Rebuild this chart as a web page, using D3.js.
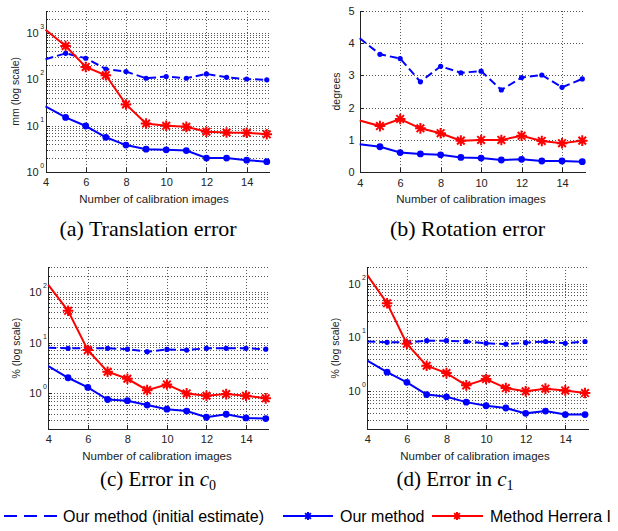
<!DOCTYPE html>
<meta charset="utf-8">
<head>
<style>
  body { margin: 0; background: #fff; }
  svg { display: block; font-family: "Liberation Sans", Arial, sans-serif; }
  .grid line { stroke: #555; stroke-width: 1; stroke-dasharray: 1,2; shape-rendering: crispEdges; }
  .axis path, .axis line { stroke: #222; shape-rendering: crispEdges; }
  .axis text { font-size: 11px; fill: #222; font-family: "Liberation Sans", Arial, sans-serif; }
  .xlabel { font-size: 11.5px; fill: #222; }
  .ylabel { font-size: 10.5px; fill: #222; }
  .caption { font-family: "Liberation Serif", "Times New Roman", serif; font-size: 22px; fill: #000; }
  .legend text { font-size: 16px; fill: #000; }
</style>
</head>
<body>
<script src="https://d3js.org/d3.v7.min.js"></script>
<div id="chart"></div>
<script>
// number of calibration images
var xs = [4, 5, 6, 7, 8, 9, 10, 11, 12, 13, 14, 15];
var xTicks = [4, 6, 8, 10, 12, 14];

// (a) translation error, mm
var transInit    = [269, 362, 283, 166, 146, 105, 114, 105, 130, 110, 101, 97];
var transOurs    = [26, 15, 9.8, 5.6, 3.8, 3.1, 3.0, 2.9, 2.0, 2.0, 1.8, 1.67];
var transHerrera = [1170, 520, 184, 122, 28.6, 11.1, 9.9, 9.4, 7.4, 7.1, 7.0, 6.5];

// (b) rotation error, degrees
var rotInit    = [4.15, 3.65, 3.52, 2.80, 3.28, 3.08, 3.13, 2.55, 2.93, 3.01, 2.63, 2.89];
var rotOurs    = [0.87, 0.79, 0.61, 0.57, 0.54, 0.46, 0.44, 0.38, 0.40, 0.35, 0.35, 0.33];
var rotHerrera = [1.6, 1.43, 1.65, 1.36, 1.21, 0.98, 1.0, 1.0, 1.13, 0.97, 0.90, 0.98];

// (c) error in c0, %
var c0Init    = [7.9, 7.7, 7.7, 7.7, 7.4, 6.6, 7.3, 7.1, 7.7, 7.7, 7.7, 7.4];
var c0Ours    = [3.45, 2.03, 1.31, 0.76, 0.72, 0.59, 0.49, 0.45, 0.34, 0.39, 0.33, 0.32];
var c0Herrera = [135, 42, 7.1, 2.67, 1.94, 1.16, 1.50, 1.0, 0.90, 0.97, 0.90, 0.80];

// (d) error in c1, %
var c1Init    = [8.4, 8.1, 8.1, 8.7, 8.7, 8.4, 7.8, 7.5, 8.0, 8.4, 7.8, 8.4];
var c1Ours    = [3.7, 2.27, 1.47, 0.87, 0.79, 0.63, 0.54, 0.49, 0.39, 0.43, 0.37, 0.37];
var c1Herrera = [143, 43, 7.6, 2.98, 2.18, 1.29, 1.69, 1.15, 1.0, 1.12, 1.04, 0.93];

var rotTicks = [0, 1, 2, 3, 4, 5];
var legendLabels = ["Our method (initial estimate)", "Our method", "Method Herrera I"];

var width = 618, height = 531;
var blue = "#0000ff", red = "#ff0000";

var panels = [
  { left: 45.5, right: 269.8, top: 10.7, bottom: 172, log: true, domain: [1, 3000],
    ylabel: "mm (log scale)", ylabelX: 15, xlabelX: 154, caption: "(a) Translation error", captionX: 148, captionY: 236,
    series: [transInit, transOurs, transHerrera] },
  { left: 359.7, right: 585.3, top: 10.7, bottom: 172.3, log: false, domain: [0, 5],
    ylabel: "degrees", ylabelX: 336, xlabelX: 471, caption: "(b) Rotation error", captionX: 467.5, captionY: 236,
    series: [rotInit, rotOurs, rotHerrera] },
  { left: 48.3, right: 268.7, top: 267.3, bottom: 429, log: true, domain: [0.2, 300],
    ylabel: "% (log scale)", ylabelX: 16, xlabelX: 157, caption: "(c) Error in ", sub: "0", captionX: 158, captionY: 486,
    series: [c0Init, c0Ours, c0Herrera] },
  { left: 367.3, right: 588, top: 267.3, bottom: 429, log: true, domain: [0.2, 200],
    ylabel: "% (log scale)", ylabelX: 335, xlabelX: 475, caption: "(d) Error in ", sub: "1", captionX: 455, captionY: 486,
    series: [c1Init, c1Ours, c1Herrera] }
];

var svg = d3.select("#chart").append("svg")
  .attr("width", width)
  .attr("height", height);

function starPath(cx, cy, r) {
  var d = r * 0.72;
  return "M" + (cx - r) + "," + cy + "L" + (cx + r) + "," + cy +
    "M" + cx + "," + (cy - r) + "L" + cx + "," + (cy + r) +
    "M" + (cx - d) + "," + (cy - d) + "L" + (cx + d) + "," + (cy + d) +
    "M" + (cx - d) + "," + (cy + d) + "L" + (cx + d) + "," + (cy - d);
}

panels.forEach(function (p) {
  var g = svg.append("g");

  var x = d3.scaleLinear().domain([4, 15.15]).range([p.left, p.right]);
  var y = p.log
    ? d3.scaleLog().domain(p.domain).range([p.bottom, p.top])
    : d3.scaleLinear().domain(p.domain).range([p.bottom, p.top]);

  // grid values
  var majors, gridVals;
  if (p.log) {
    majors = [];
    gridVals = [];
    var lo = Math.floor(Math.log10(p.domain[0])), hi = Math.ceil(Math.log10(p.domain[1]));
    for (var k = lo; k <= hi; k++) {
      for (var m = 1; m <= 9; m++) {
        var v = m * Math.pow(10, k);
        if (v >= p.domain[0] * 0.999 && v <= p.domain[1] * 1.001) {
          gridVals.push(v);
          if (m === 1) majors.push(v);
        }
      }
    }
  } else {
    majors = rotTicks;
    gridVals = rotTicks.slice(1);
  }

  var grid = g.append("g").attr("class", "grid");
  grid.selectAll(".h").data(gridVals).enter().append("line")
    .attr("x1", p.left).attr("x2", p.right)
    .attr("y1", function (d) { return Math.round(y(d)) + 0.5; })
    .attr("y2", function (d) { return Math.round(y(d)) + 0.5; });
  grid.selectAll(".v").data(xTicks.slice(1)).enter().append("line")
    .attr("y1", p.top).attr("y2", p.bottom)
    .attr("x1", function (d) { return Math.round(x(d)) + 0.5; })
    .attr("x2", function (d) { return Math.round(x(d)) + 0.5; });

  // axes
  g.append("g").attr("class", "axis")
    .attr("transform", "translate(0," + p.bottom + ")")
    .call(d3.axisBottom(x).tickValues(xTicks).tickSize(-4).tickSizeOuter(0).tickPadding(6.5));

  var yAxis = g.append("g").attr("class", "axis")
    .attr("transform", "translate(" + p.left + ",0)");
  if (p.log) {
    yAxis.call(d3.axisLeft(y).tickValues(majors).tickSize(-4).tickSizeOuter(0).tickFormat(""));
    g.append("g").attr("class", "axis")
      .attr("transform", "translate(" + p.left + ",0)")
      .call(d3.axisLeft(y).tickValues(gridVals.filter(function (d) { return majors.indexOf(d) < 0; }))
        .tickSize(-2).tickSizeOuter(0).tickFormat(""))
      .select(".domain").remove();
    var lab = g.append("g").selectAll("text").data(majors).enter().append("text")
      .attr("x", p.left - 19)
      .attr("y", function (d) { return y(d) + 4; })
      .attr("text-anchor", "start")
      .style("font-size", "11px").style("fill", "#222");
    lab.append("tspan").text("10");
    lab.append("tspan")
      .attr("dx", 1.5).attr("dy", -8)
      .style("font-size", "7px")
      .text(function (d) { return Math.round(Math.log10(d)); });
  } else {
    yAxis.call(d3.axisLeft(y).tickValues(majors).tickSize(-4).tickSizeOuter(0).tickPadding(5)
      .tickFormat(d3.format("d")));
  }

  // labels
  g.append("text").attr("class", "xlabel")
    .attr("x", p.xlabelX).attr("y", p.bottom + 31)
    .attr("text-anchor", "middle")
    .text("Number of calibration images");
  g.append("text").attr("class", "ylabel")
    .attr("transform", "translate(" + (p.ylabelX + 4) + "," + ((p.top + p.bottom) / 2) + ") rotate(-90)")
    .attr("text-anchor", "middle")
    .text(p.ylabel);

  var cap = g.append("text").attr("class", "caption")
    .attr("x", p.captionX).attr("y", p.captionY)
    .attr("text-anchor", "middle");
  if (p.sub) cap.style("font-size", "21px");
  cap.append("tspan").text(p.caption);
  if (p.sub) {
    cap.append("tspan").style("font-style", "italic").text("c");
    cap.append("tspan").attr("dy", 4).style("font-size", "14px").text(p.sub);
  }

  // series
  var line = d3.line()
    .x(function (d, i) { return x(xs[i]); })
    .y(function (d) { return y(d); });

  var styles = [
    { color: blue, dash: "8,4", width: 2, marker: "dot", r: 2.6 },
    { color: blue, dash: null, width: 2, marker: "dot", r: 3.4 },
    { color: red, dash: null, width: 2, marker: "star", r: 5.3 }
  ];

  p.series.forEach(function (vals, si) {
    var s = styles[si];
    g.append("path")
      .datum(vals)
      .attr("d", line)
      .attr("fill", "none")
      .attr("stroke", s.color)
      .attr("stroke-width", s.width)
      .attr("stroke-dasharray", s.dash);

    var pts = vals.slice(1);
    if (s.marker === "dot") {
      g.selectAll(null).data(pts).enter().append("circle")
        .attr("cx", function (d, i) { return x(xs[i + 1]); })
        .attr("cy", function (d) { return y(d); })
        .attr("r", s.r)
        .attr("fill", s.color);
    } else {
      g.selectAll(null).data(pts).enter().append("path")
        .attr("d", function (d, i) { return starPath(x(xs[i + 1]), y(d), s.r); })
        .attr("stroke", s.color)
        .attr("stroke-width", 2)
        .attr("fill", "none");
    }
  });
});

// legend
var lg = svg.append("g").attr("class", "legend");
var ly = 516;
lg.append("line").attr("x1", 4).attr("x2", 57).attr("y1", ly).attr("y2", ly)
  .attr("stroke", blue).attr("stroke-width", 2).attr("stroke-dasharray", "13,7");
lg.append("text").attr("x", 63).attr("y", ly + 6).text(legendLabels[0]);

lg.append("line").attr("x1", 283).attr("x2", 333).attr("y1", ly).attr("y2", ly)
  .attr("stroke", blue).attr("stroke-width", 2);
lg.append("path").attr("d", starPath(308, ly, 4)).attr("stroke", blue).attr("stroke-width", 2);
lg.append("text").attr("x", 340).attr("y", ly + 6).text(legendLabels[1]);

lg.append("line").attr("x1", 432).attr("x2", 483).attr("y1", ly).attr("y2", ly)
  .attr("stroke", red).attr("stroke-width", 2);
lg.append("path").attr("d", starPath(457, ly, 4)).attr("stroke", red).attr("stroke-width", 2);
lg.append("text").attr("x", 490).attr("y", ly + 6).text(legendLabels[2]);
</script>
</body>
